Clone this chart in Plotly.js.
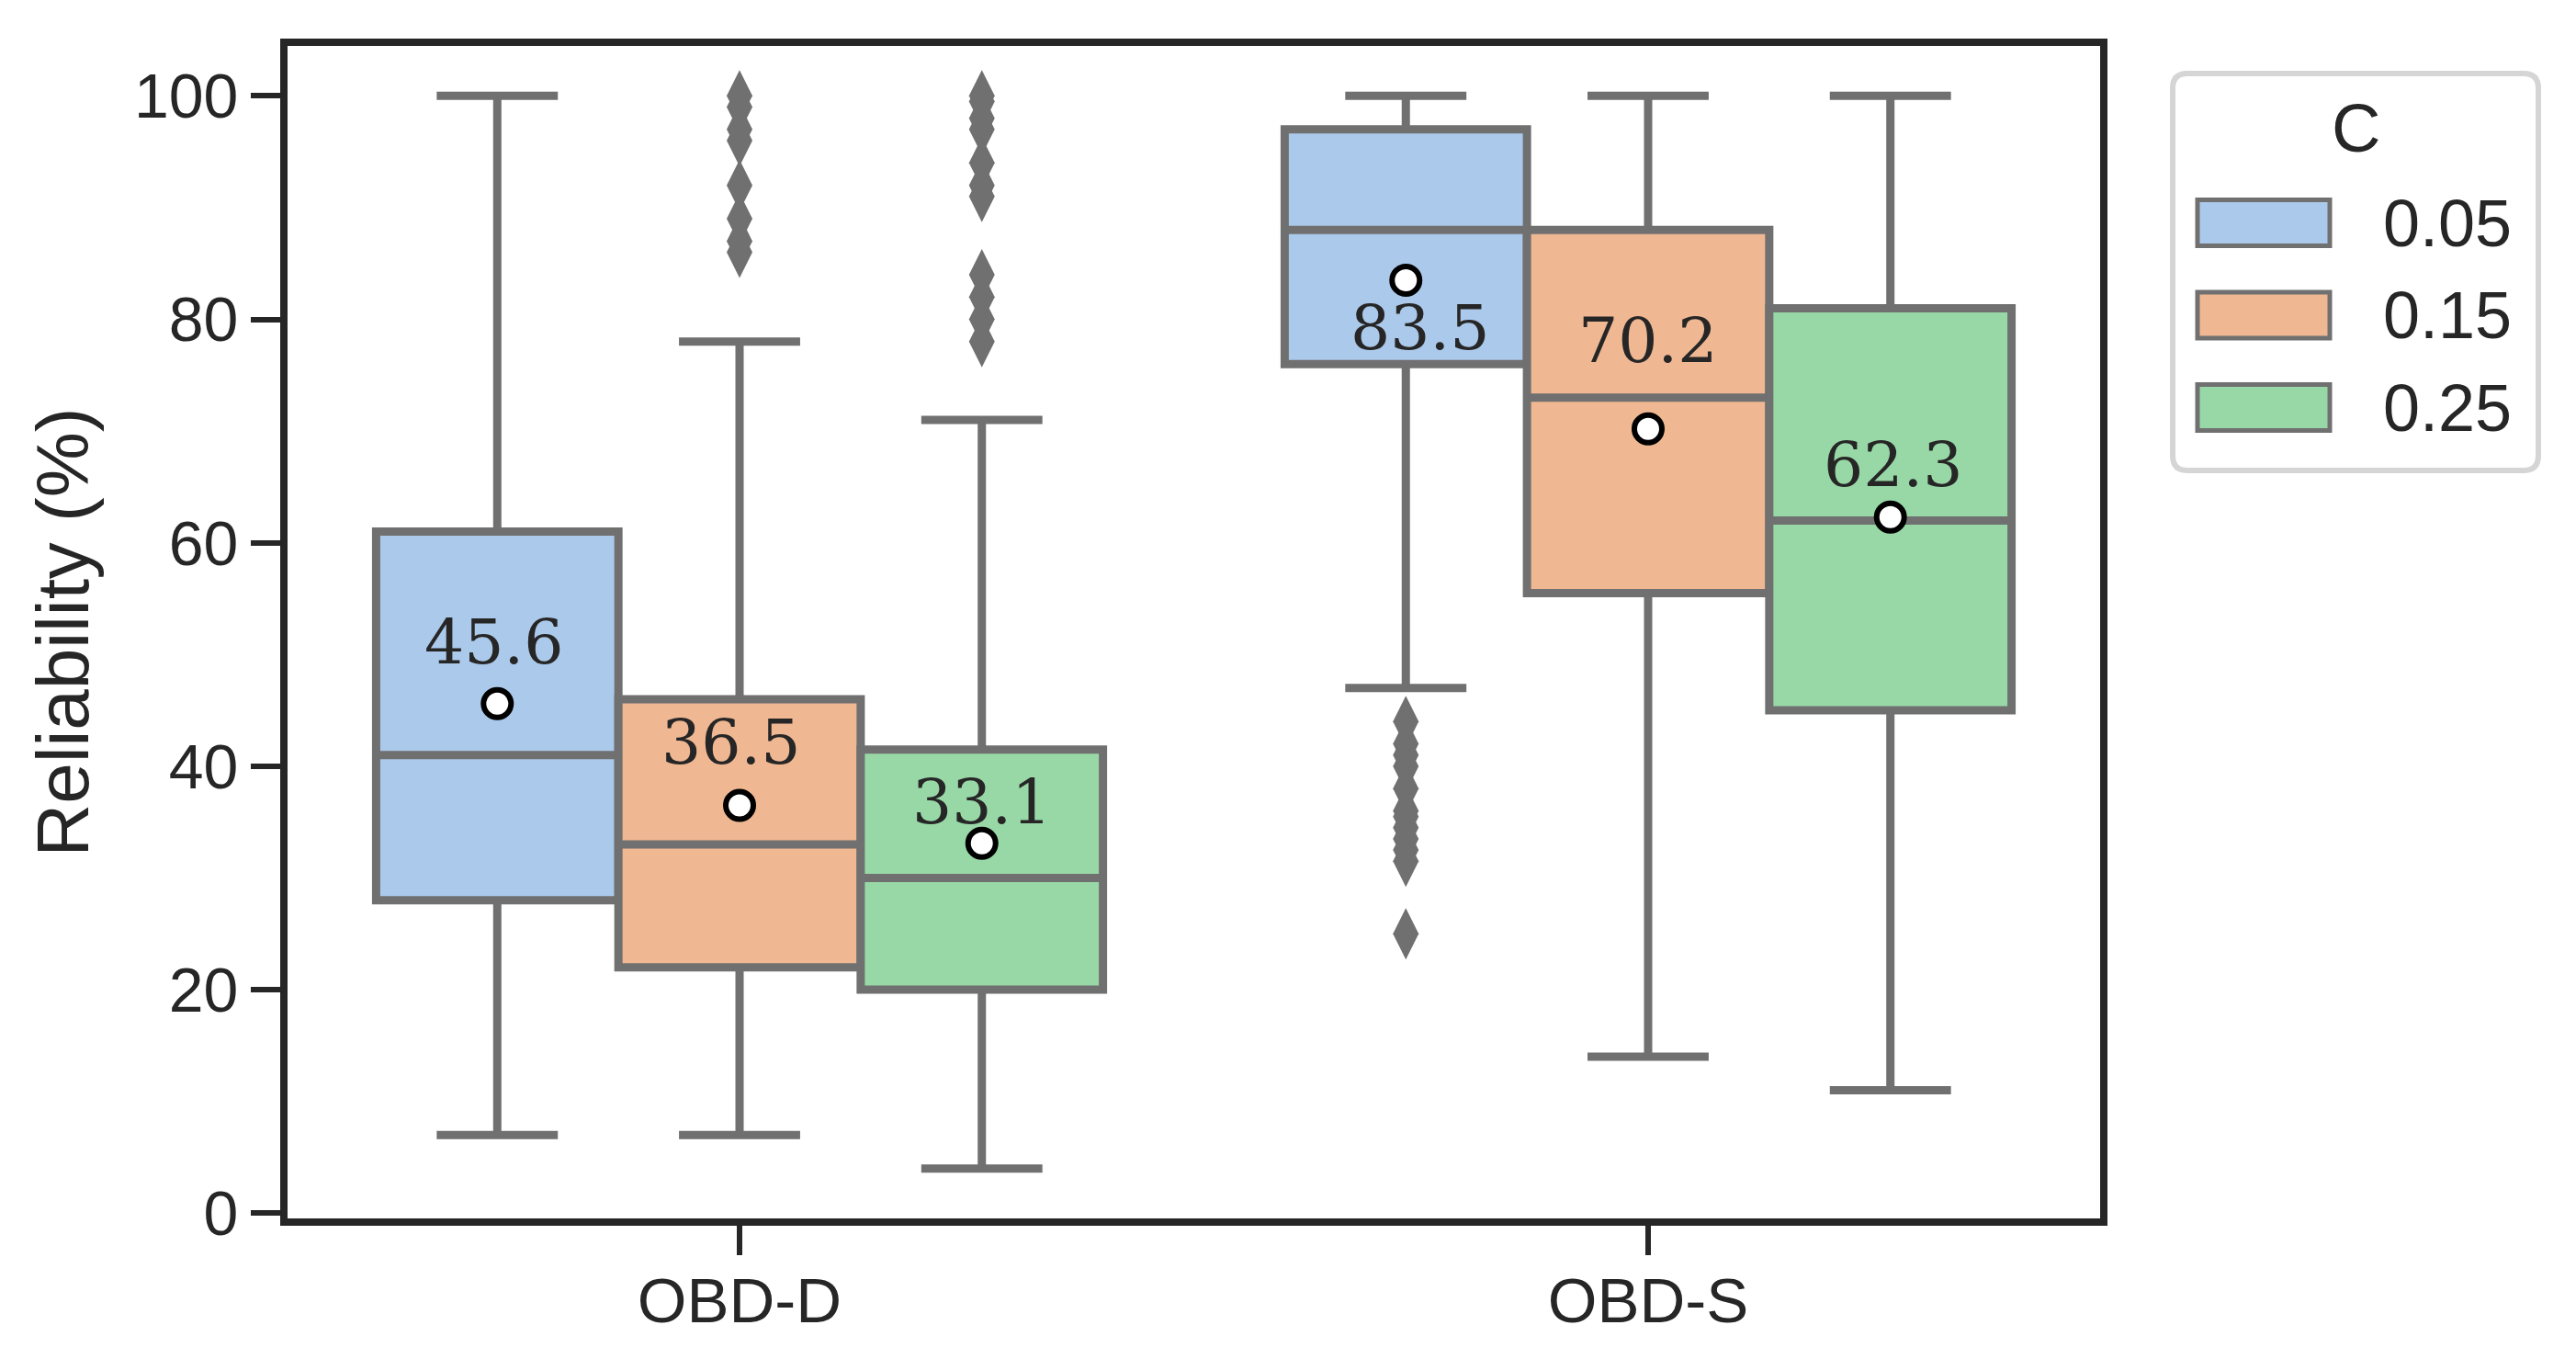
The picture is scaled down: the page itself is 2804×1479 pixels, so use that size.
<!DOCTYPE html>
<html>
<head>
<meta charset="utf-8">
<script src="https://cdn.plot.ly/plotly-3.0.1.min.js"></script>
<style>html,body{margin:0;padding:0;background:#fff;}#chart{width:2804px;height:1479px;}</style>
</head>
<body>
<div id="chart"></div>
<script>
// ---------- data ----------
const categories = ['OBD-D', 'OBD-S'];
const hues = ['0.05', '0.15', '0.25'];

const lo_005 = [7, 47];    const q1_005 = [28, 76];   const med_005 = [41, 88];  const q3_005 = [61, 97];   const hi_005 = [100, 100];
const lo_015 = [7, 14];    const q1_015 = [22, 55.5]; const med_015 = [33, 73];  const q3_015 = [46, 88];   const hi_015 = [78, 100];
const lo_025 = [4, 11];    const q1_025 = [20, 45];   const med_025 = [30, 62];  const q3_025 = [41.5, 81]; const hi_025 = [71, 100];

const mean_005 = [45.6, 83.5];
const mean_015 = [36.5, 70.2];
const mean_025 = [33.1, 62.3];

const out_005_D = [];
const out_005_S = [44, 42, 41, 40, 38, 36, 35.5, 34.5, 33.5, 32.5, 31.5, 25];
const out_015_D = [100, 99, 97, 96, 92, 89, 87, 86];
const out_015_S = [];
const out_025_D = [100, 99.5, 98, 97, 94, 92, 91, 84, 82, 80, 78];
const out_025_S = [];

const yTickVals = [0, 20, 40, 60, 80, 100];

// ---------- style ----------
const colors = ['#abc9ea', '#efb792', '#98d8a7'];
const gray = '#707070';
const dark = '#262626';
const W = 2804, H = 1479;
const M = {l: 313, r: 518, t: 50, b: 153};
const nH = hues.length;
const boxW = 0.8 / nH;
// label pixel offsets (up positive) per hue & category
const labShiftY = [[67, -52], [69, 96], [45, 57]];
const labShiftX = [[-4, 15], [-10, 0], [0, 3]];

const stats = [
  {lo: lo_005, q1: q1_005, med: med_005, q3: q3_005, hi: hi_005, mean: mean_005, out: [out_005_D, out_005_S]},
  {lo: lo_015, q1: q1_015, med: med_015, q3: q3_015, hi: hi_015, mean: mean_015, out: [out_015_D, out_015_S]},
  {lo: lo_025, q1: q1_025, med: med_025, q3: q3_025, hi: hi_025, mean: mean_025, out: [out_025_D, out_025_S]}
];

function pos(ci, hi) { return ci + (hi - (nH - 1) / 2) * boxW; }

const traces = [];
const annotations = [];
stats.forEach((s, h) => {
  const xs = categories.map((c, ci) => pos(ci, h));
  traces.push({
    type: 'box', x: xs, q1: s.q1, median: s.med, q3: s.q3,
    lowerfence: s.lo, upperfence: s.hi, width: boxW,
    fillcolor: colors[h], line: {color: gray, width: 9},
    whiskerwidth: 0.5, boxpoints: false, showlegend: false, hoverinfo: 'skip'
  });
});
stats.forEach((s, h) => {
  categories.forEach((c, ci) => {
    if (s.out[ci].length) {
      traces.push({
        type: 'scatter', mode: 'markers',
        x: s.out[ci].map(() => pos(ci, h)), y: s.out[ci],
        marker: {symbol: 'diamond-tall', size: 40, color: gray, line: {width: 0}},
        showlegend: false, hoverinfo: 'skip', cliponaxis: false
      });
    }
  });
});
stats.forEach((s, h) => {
  const xs = categories.map((c, ci) => pos(ci, h));
  traces.push({
    type: 'scatter', mode: 'markers', x: xs, y: s.mean,
    marker: {symbol: 'circle', size: 30, color: '#ffffff', line: {color: '#000000', width: 6}},
    showlegend: false, hoverinfo: 'skip', cliponaxis: false
  });
  s.mean.forEach((m, ci) => {
    annotations.push({
      x: xs[ci], y: m, xref: 'x', yref: 'y', text: m.toFixed(1), showarrow: false,
      xanchor: 'center', yanchor: 'middle', yshift: labShiftY[h][ci], xshift: labShiftX[h][ci],
      font: {family: 'DejaVu Serif', size: 68, color: dark}
    });
  });
});

// ---------- custom legend (paper coords from px) ----------
const pw = W - M.l - M.r, ph = H - M.t - M.b;
const px2x = p => (p - M.l) / pw;
const px2y = p => (H - M.b - p) / ph;
function roundRect(x0, y0, x1, y1, r) {
  const P = (x, y) => px2x(x).toFixed(5) + ',' + px2y(y).toFixed(5);
  return 'M' + P(x0 + r, y0) + ' L' + P(x1 - r, y0) + ' Q' + P(x1, y0) + ' ' + P(x1, y0 + r) +
    ' L' + P(x1, y1 - r) + ' Q' + P(x1, y1) + ' ' + P(x1 - r, y1) +
    ' L' + P(x0 + r, y1) + ' Q' + P(x0, y1) + ' ' + P(x0, y1 - r) +
    ' L' + P(x0, y0 + r) + ' Q' + P(x0, y0) + ' ' + P(x0 + r, y0) + ' Z';
}
const shapes = [{
  type: 'path', xref: 'paper', yref: 'paper', path: roundRect(2365, 80, 2763, 512, 16),
  fillcolor: 'rgba(255,255,255,0.8)', line: {color: '#d5d5d5', width: 6}
}];
annotations.push({
  xref: 'paper', yref: 'paper', x: px2x(2564), y: px2y(140), text: 'C', showarrow: false,
  xanchor: 'center', yanchor: 'middle', font: {family: 'Liberation Sans, Arial', size: 74, color: dark}
});
hues.forEach((lab, i) => {
  const cy = 242.5 + i * 100.5;
  shapes.push({
    type: 'rect', xref: 'paper', yref: 'paper',
    x0: px2x(2392), x1: px2x(2536), y0: px2y(cy - 25), y1: px2y(cy + 25),
    fillcolor: colors[i], line: {color: gray, width: 5}
  });
  annotations.push({
    xref: 'paper', yref: 'paper', x: px2x(2592), y: px2y(cy), text: lab, showarrow: false,
    xanchor: 'left', yanchor: 'middle', font: {family: 'Liberation Sans, Arial', size: 72, color: dark}
  });
});

const layout = {
  width: W, height: H,
  margin: M,
  paper_bgcolor: '#ffffff', plot_bgcolor: '#ffffff',
  showlegend: false,
  boxmode: 'overlay',
  font: {family: 'Liberation Sans, Arial', color: dark},
  xaxis: {
    range: [-0.4975, 1.4975], tickvals: categories.map((c, i) => i), ticktext: categories,
    showgrid: false, zeroline: false, showline: true, mirror: true, linecolor: dark, linewidth: 8,
    ticks: 'outside', ticklen: 32, tickwidth: 6, tickcolor: dark, ticklabelstandoff: -10,
    tickfont: {family: 'Liberation Sans, Arial', size: 69, color: dark}
  },
  yaxis: {
    range: [-0.47, 104.47], tickvals: yTickVals, ticktext: yTickVals.map(String),
    showgrid: false, zeroline: false, showline: true, mirror: true, linecolor: dark, linewidth: 8,
    ticks: 'outside', ticklen: 32, tickwidth: 6, tickcolor: dark,
    tickfont: {family: 'Liberation Sans, Arial', size: 68, color: dark},
    title: {text: 'Reliability (%)', font: {family: 'Liberation Sans, Arial', size: 80, color: dark}, standoff: 26}
  },
  shapes: shapes,
  annotations: annotations
};

Plotly.newPlot('chart', traces, layout, {staticPlot: true, displayModeBar: false});
</script>
</body>
</html>
